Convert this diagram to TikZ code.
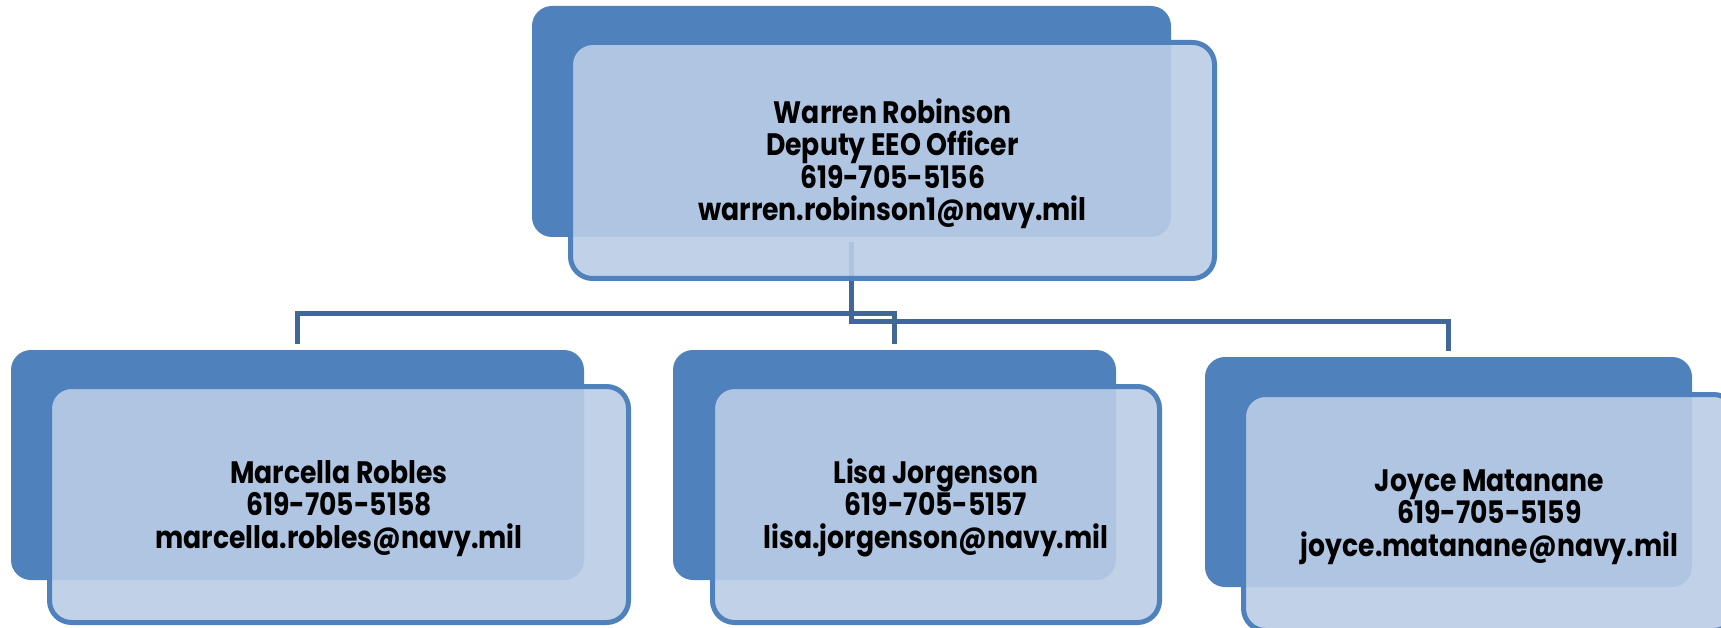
\documentclass[tikz,border=0pt]{standalone}
\usepackage{fontspec}
\setmainfont{Poppins}[FakeStretch=0.86]
\definecolor{backblue}{RGB}{79,129,189}
\definecolor{frontfill}{RGB}{186,205,230}
\definecolor{connblue}{RGB}{64,103,152}
\newcommand{\topstrut}{\rule{0pt}{31pt}}
\tikzset{
  backbox/.style={rectangle, fill=backblue, draw=none, rounded corners=20pt, inner sep=0pt},
  frontbox/.style={rectangle, fill=frontfill, fill opacity=0.9, text opacity=1, draw=backblue, line width=5pt, rounded corners=22pt, inner sep=0pt, align=center, font=\fontsize{31}{32.3}\selectfont\bfseries},
  conn/.style={draw=connblue, line width=5pt}
}
\begin{document}
\begin{tikzpicture}[x=1pt,y=-1pt]
\useasboundingbox (0,0) rectangle (1721,628);
% back boxes
\node[backbox, minimum width=639pt, minimum height=231pt] (tb) at (851.5,121.5) {};
\node[backbox, minimum width=573pt, minimum height=230pt] (mb) at (297.5,465) {};
\node[backbox, minimum width=443pt, minimum height=230pt] (lb) at (894.5,465) {};
\node[backbox, minimum width=487pt, minimum height=230pt] (jb) at (1448.5,472) {};
% connectors
\draw[conn] ([yshift=-5pt]tb.south) -- ++(0,71) -| ([yshift=6pt]mb.north);
\draw[conn] ([yshift=-5pt]tb.south) -- ++(0,71) -| ([yshift=6pt]lb.north);
\draw[conn] ([yshift=-5pt]tb.south) -- ++(0,79) -| ([yshift=6pt]jb.north);
% front boxes
\node[frontbox, minimum width=644pt, minimum height=236pt] (top) at (892.5,160.5) {\topstrut Warren Robinson\\Deputy EEO Officer\\619-705-5156\\warren.robinson1@navy.mil};
\node[frontbox, minimum width=579pt, minimum height=236pt] (marcella) at (339,504.5) {\topstrut Marcella Robles\\619-705-5158\\marcella.robles@navy.mil};
\node[frontbox, minimum width=447pt, minimum height=236pt] (lisa) at (936,504.5) {\topstrut Lisa Jorgenson\\619-705-5157\\lisa.jorgenson@navy.mil};
\node[frontbox, minimum width=492pt, minimum height=236pt] (joyce) at (1489.5,512.5) {\topstrut Joyce Matanane\\619-705-5159\\joyce.matanane@navy.mil};
\end{tikzpicture}
\end{document}
